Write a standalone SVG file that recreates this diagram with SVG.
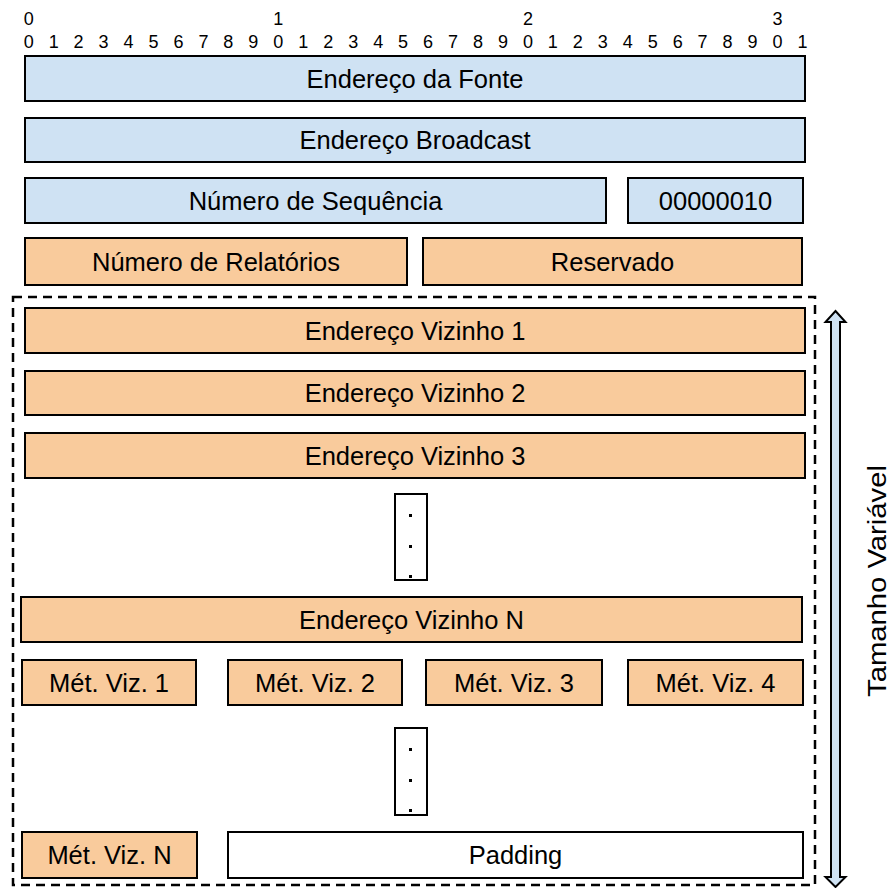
<svg xmlns="http://www.w3.org/2000/svg" width="892" height="888" viewBox="0 0 892 888">
  <style>
    .bits { font-family: "Liberation Sans", Arial, sans-serif; font-size: 18px; fill: #000; }
    .lbl { font-family: "Liberation Sans", Arial, sans-serif; font-size: 25.5px; fill: #000; text-anchor: middle; }
    .box { stroke: #000; stroke-width: 2; }
    .blue { fill: #cfe2f3; }
    .orange { fill: #f9cb9c; }
    .white { fill: #ffffff; }
    .dot { fill: #000; }
    .frame { fill: none; stroke: #000; stroke-width: 2.5; stroke-dasharray: 9 6; }
  </style>
  <rect width="892" height="888" fill="#ffffff"/>

  <!-- bit ruler -->
  <g id="ruler">
    <text class="bits" text-anchor="middle" x="28.7 278.3 527.9 777.5" y="25">0123</text>
    <text class="bits" text-anchor="middle" y="48" x="28.7 53.66 78.62 103.58 128.54 153.5 178.46 203.42 228.38 253.34 278.3 303.26 328.22 353.18 378.14 403.1 428.06 453.02 477.98 502.94 527.9 552.86 577.82 602.78 627.74 652.7 677.66 702.62 727.58 752.54 777.5 802.46">01234567890123456789012345678901</text>
  </g>

  <g id="src-addr">
    <rect class="box blue" x="25" y="56" width="780" height="45"/>
    <text class="lbl" x="415" y="87.5">Endereço da Fonte</text>
  </g>
  <g id="bcast-addr">
    <rect class="box blue" x="25" y="118" width="780" height="44"/>
    <text class="lbl" x="415" y="149">Endereço Broadcast</text>
  </g>
  <g id="seq-num">
    <rect class="box blue" x="25" y="178" width="581" height="45"/>
    <text class="lbl" x="315.5" y="209.5">Número de Sequência</text>
  </g>
  <g id="type">
    <rect class="box blue" x="628" y="178" width="175" height="45"/>
    <text class="lbl" x="715.5" y="209.5">00000010</text>
  </g>
  <g id="num-reports">
    <rect class="box orange" x="25" y="238" width="382" height="47"/>
    <text class="lbl" x="216" y="270.5">Número de Relatórios</text>
  </g>
  <g id="reserved">
    <rect class="box orange" x="423" y="238" width="379" height="47"/>
    <text class="lbl" x="612.5" y="270.5">Reservado</text>
  </g>

  <!-- variable-length section -->
  <g id="variable-frame">
    <rect class="frame" x="13" y="297" width="802" height="588"/>
  </g>
  <g id="nbr-1">
    <rect class="box orange" x="25" y="308" width="780" height="45"/>
    <text class="lbl" x="415" y="339.5">Endereço Vizinho 1</text>
  </g>
  <g id="nbr-2">
    <rect class="box orange" x="25" y="371" width="780" height="44"/>
    <text class="lbl" x="415" y="402">Endereço Vizinho 2</text>
  </g>
  <g id="nbr-3">
    <rect class="box orange" x="25" y="433" width="780" height="45"/>
    <text class="lbl" x="415" y="464.5">Endereço Vizinho 3</text>
  </g>
  <g id="ellipsis-1">
    <rect class="box white" x="395" y="494" width="32" height="86"/>
    <rect class="dot" x="409" y="514" width="3" height="3"/>
    <rect class="dot" x="409" y="545" width="3" height="3"/>
    <rect class="dot" x="409" y="575" width="3" height="3"/>
  </g>
  <g id="nbr-n">
    <rect class="box orange" x="21" y="597" width="781" height="45"/>
    <text class="lbl" x="411.5" y="628.5">Endereço Vizinho N</text>
  </g>
  <g id="metric-1">
    <rect class="box orange" x="22" y="660" width="174" height="45"/>
    <text class="lbl" x="109" y="691.5">Mét. Viz. 1</text>
  </g>
  <g id="metric-2">
    <rect class="box orange" x="228" y="660" width="174" height="45"/>
    <text class="lbl" x="315" y="691.5">Mét. Viz. 2</text>
  </g>
  <g id="metric-3">
    <rect class="box orange" x="426" y="660" width="176" height="45"/>
    <text class="lbl" x="514" y="691.5">Mét. Viz. 3</text>
  </g>
  <g id="metric-4">
    <rect class="box orange" x="628" y="660" width="175" height="45"/>
    <text class="lbl" x="715.5" y="691.5">Mét. Viz. 4</text>
  </g>
  <g id="ellipsis-2">
    <rect class="box white" x="395" y="728" width="32" height="87"/>
    <rect class="dot" x="409" y="748" width="3" height="3"/>
    <rect class="dot" x="409" y="779" width="3" height="3"/>
    <rect class="dot" x="409" y="809" width="3" height="3"/>
  </g>
  <g id="metric-n">
    <rect class="box orange" x="22" y="832" width="175" height="46"/>
    <text class="lbl" x="109.5" y="864">Mét. Viz. N</text>
  </g>
  <g id="padding">
    <rect class="box white" x="228" y="832" width="575" height="46"/>
    <text class="lbl" x="515.5" y="864">Padding</text>
  </g>

  <!-- length indicator -->
  <g id="connectors">
    <polygon points="835.5,311 845.5,322 840,322 840,877 845.5,877 835.5,887 825.5,877 831,877 831,322 825.5,322" fill="#cfe2f3" stroke="#000" stroke-width="2" stroke-linejoin="miter"/>
  </g>
  <g id="length-label">
    <text class="lbl" x="886" y="581" font-size="21" textLength="232" lengthAdjust="spacingAndGlyphs" transform="rotate(-90 886 581)">Tamanho Variável</text>
  </g>
</svg>
